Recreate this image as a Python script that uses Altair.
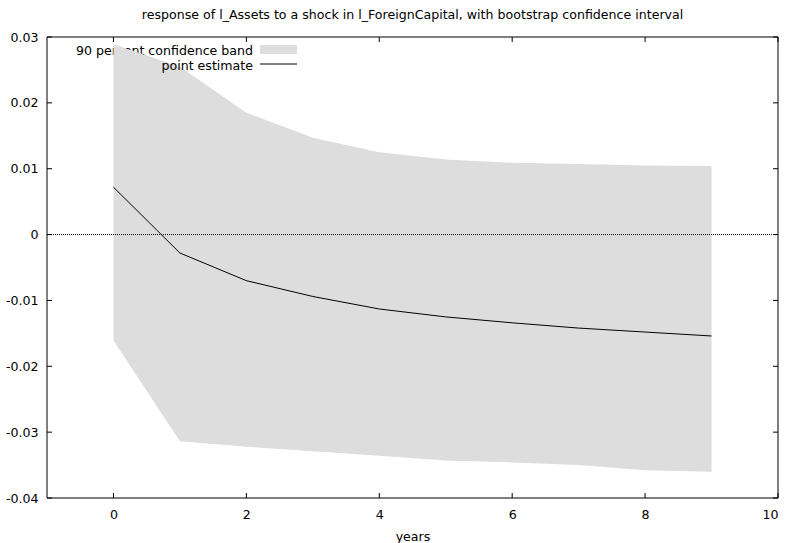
import altair as alt
import pandas as pd

# ---- data ----
steps = list(range(10))
upper = [0.0289, 0.0255, 0.0185, 0.0147, 0.0125, 0.0114, 0.0109, 0.0107, 0.0105, 0.0104]
lower = [-0.0161, -0.0314, -0.0322, -0.0329, -0.0336, -0.0343, -0.0346, -0.0350, -0.0358, -0.0360]
point = [0.0072, -0.0028, -0.0070, -0.0094, -0.0113, -0.0125, -0.0134, -0.0142, -0.0148, -0.0154]

x_ticks = [0, 2, 4, 6, 8, 10]
y_ticks = [-0.04, -0.03, -0.02, -0.01, 0.0, 0.01, 0.02, 0.03]
zero_level = [0.0]

title_text = "response of l_Assets to a shock in l_ForeignCapital, with bootstrap confidence interval"
legend_band = "90 percent confidence band"
legend_line = "point estimate"
x_title = "years"

W, H = 731, 461
FONT = "DejaVu Sans"
FS = 12.6

df = pd.DataFrame({"step": steps, "upper": upper, "lower": lower, "point": point})
xt = pd.DataFrame({"t": x_ticks})
yt = pd.DataFrame({"t": y_ticks})
zt = pd.DataFrame({"z": zero_level})
one = alt.Data(values=[{"k": 1}])

xs = alt.Scale(domain=[-1, 10], nice=False, zero=False)
ys = alt.Scale(domain=[-0.04, 0.03], nice=False, zero=False)

x_axis = alt.Axis(values=x_ticks, tickSize=0, domain=False, grid=False,
                  labelPadding=10, titlePadding=10, title=x_title,
                  labelFont=FONT, labelFontSize=FS, labelColor="black",
                  titleFont=FONT, titleFontSize=FS, titleFontWeight="normal", titleColor="black")
y_axis = alt.Axis(values=y_ticks, tickSize=0, domain=False, grid=False,
                  labelPadding=9, title=None,
                  labelFont=FONT, labelFontSize=FS, labelColor="black",
                  labelExpr="replace(format(datum.value, '.2~f'), '\u2212', '-')")


def X(field):
    return alt.X(field, type="quantitative", scale=xs, axis=x_axis)


def Y(field):
    return alt.Y(field, type="quantitative", scale=ys, axis=y_axis)


# legend entry 1 text (drawn below the band, as in the reference)
leg_t1 = alt.Chart(one).mark_text(align="right", baseline="middle", fontSize=FS, font=FONT, color="black").encode(
    x=alt.value(206), y=alt.value(13.7), text=alt.value(legend_band))

band = alt.Chart(df).mark_area(color="#dddddd", opacity=1).encode(
    x=X("step"), y=Y("lower"), y2="upper")

leg_rect = alt.Chart(one).mark_rect(color="#dddddd").encode(
    x=alt.value(213), x2=alt.value(250), y=alt.value(8), y2=alt.value(17))

# legend entry 2 (drawn after the band)
leg_t2 = alt.Chart(one).mark_text(align="right", baseline="middle", fontSize=FS, font=FONT, color="black").encode(
    x=alt.value(206), y=alt.value(28.5), text=alt.value(legend_line))
leg_line = alt.Chart(one).mark_rule(color="black", strokeWidth=1).encode(
    x=alt.value(213), x2=alt.value(250), y=alt.value(27))

zero = alt.Chart(zt).mark_rule(color="black", strokeWidth=1, strokeDash=[1, 1]).encode(
    y=Y("z"), x=alt.value(0), x2=alt.value(W))

line = alt.Chart(df).mark_line(color="black", strokeWidth=1).encode(
    x=X("step"), y=Y("point"))

xb = alt.Chart(xt).mark_rule(color="black", strokeWidth=1).encode(
    x=X("t"), y=alt.value(H), y2=alt.value(H - 5))
xtop = alt.Chart(xt).mark_rule(color="black", strokeWidth=1).encode(
    x=X("t"), y=alt.value(0), y2=alt.value(5))
yl = alt.Chart(yt).mark_rule(color="black", strokeWidth=1).encode(
    y=Y("t"), x=alt.value(0), x2=alt.value(5))
yr = alt.Chart(yt).mark_rule(color="black", strokeWidth=1).encode(
    y=Y("t"), x=alt.value(W - 5), x2=alt.value(W))

# frame
f_top = alt.Chart(one).mark_rule(color="black", strokeWidth=1).encode(
    x=alt.value(0), x2=alt.value(W), y=alt.value(0))
f_bot = alt.Chart(one).mark_rule(color="black", strokeWidth=1).encode(
    x=alt.value(0), x2=alt.value(W), y=alt.value(H))
f_left = alt.Chart(one).mark_rule(color="black", strokeWidth=1).encode(
    x=alt.value(0), y=alt.value(0), y2=alt.value(H))
f_right = alt.Chart(one).mark_rule(color="black", strokeWidth=1).encode(
    x=alt.value(W), y=alt.value(0), y2=alt.value(H))

chart = alt.layer(
    leg_t1, band, leg_rect, leg_t2, leg_line, zero, line,
    xb, xtop, yl, yr, f_top, f_bot, f_left, f_right
).properties(
    width=W, height=H,
    background="white",
    title=alt.Title(title_text, fontSize=FS, fontWeight="normal", font=FONT,
                    color="black", anchor="middle", offset=9),
    autosize=alt.AutoSizeParams(type="none"),
    padding={"left": 47, "top": 37, "right": 13, "bottom": 45},
).configure_view(
    strokeWidth=0
).configure_axis(
    labelFont=FONT, labelFontSize=FS, labelColor="black",
    titleFont=FONT, titleFontSize=FS, titleFontWeight="normal", titleColor="black"
)

chart.save("out.html", embed_options={"renderer": "svg", "actions": False})
